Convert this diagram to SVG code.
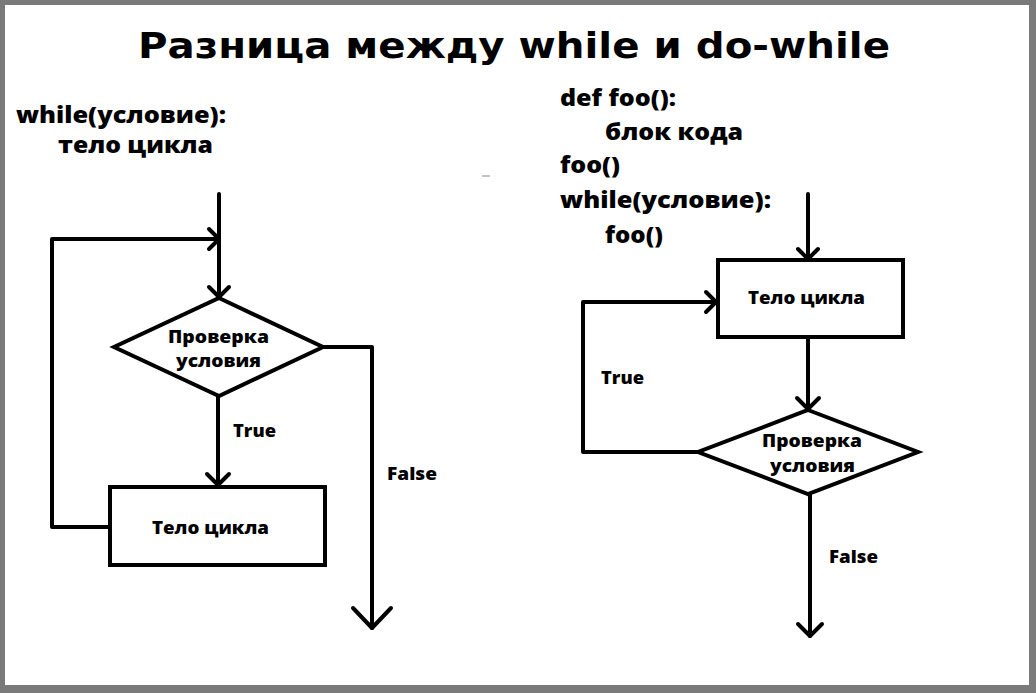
<svg xmlns="http://www.w3.org/2000/svg" width="1036" height="693" viewBox="0 0 1036 693">
<style>
.t{font-family:"Open Sans","Noto Sans","DejaVu Sans",sans-serif;font-weight:800;fill:#000}
.title{font-family:"DejaVu Sans","Verdana",sans-serif;font-weight:bold;font-size:35px;fill:#000}
.code{font-size:23px}
.lbl{font-size:18px}
.shape{fill:#fff;stroke:#000;stroke-width:4}
.ln{fill:none;stroke:#000;stroke-width:4;stroke-linecap:round;stroke-linejoin:round}
</style>
<rect x="0" y="0" width="1036" height="693" fill="#7a7a7a"/>
<rect x="5" y="5" width="1024" height="680" fill="#fff"/>
<rect x="482" y="175" width="8" height="2" fill="#c0c0c0"/>
<text class="title" x="138" y="58" textLength="752" lengthAdjust="spacingAndGlyphs">Разница между while и do-while</text>
<g id="code-while">
<text class="t code" x="16" y="123" textLength="210" lengthAdjust="spacingAndGlyphs">while(условие):</text>
<text class="t code" x="58" y="153" textLength="155" lengthAdjust="spacingAndGlyphs">тело цикла</text>
</g>
<g id="code-dowhile">
<text class="t code" x="560" y="106" textLength="116" lengthAdjust="spacingAndGlyphs">def foo():</text>
<text class="t code" x="605" y="140" textLength="138" lengthAdjust="spacingAndGlyphs">блок кода</text>
<text class="t code" x="560" y="173" textLength="60" lengthAdjust="spacingAndGlyphs">foo()</text>
<text class="t code" x="560" y="208" textLength="211" lengthAdjust="spacingAndGlyphs">while(условие):</text>
<text class="t code" x="605" y="243" textLength="58" lengthAdjust="spacingAndGlyphs">foo()</text>
</g>
<g id="connectors">
<polyline class="ln" points="219,194 219,297"/>
<polyline class="ln" points="209,287 219,297 229,287"/>
<polyline class="ln" points="110,527 52,527 52,239 219,239"/>
<polyline class="ln" points="209,229 219,239 209,249"/>
<polyline class="ln" points="218,396 218,485"/>
<polyline class="ln" points="207,474 218,485 229,474"/>
<polyline class="ln" points="323,347 372,347 372,628"/>
<polyline class="ln" points="353,608 372,628 391,608"/>
<polyline class="ln" points="808,194 808,259"/>
<polyline class="ln" points="798,249 808,259 818,249"/>
<polyline class="ln" points="808,337 808,409"/>
<polyline class="ln" points="797,398 808,409 819,398"/>
<polyline class="ln" points="698,452 583,452 583,302 716,302"/>
<polyline class="ln" points="706,292 716,302 706,312"/>
<polyline class="ln" points="810,494 810,636"/>
<polyline class="ln" points="798,624 810,636 822,624"/>
<text class="t lbl" x="233" y="437" textLength="43" lengthAdjust="spacingAndGlyphs">True</text>
<text class="t lbl" x="387" y="480" textLength="50" lengthAdjust="spacingAndGlyphs">False</text>
<text class="t lbl" x="601" y="384" textLength="43" lengthAdjust="spacingAndGlyphs">True</text>
<text class="t lbl" x="829" y="563" textLength="49" lengthAdjust="spacingAndGlyphs">False</text>
</g>
<g id="cond-while">
<polygon class="shape" points="219,298 323,347 219,396 114,347"/>
<text class="t lbl" x="168" y="343" textLength="101" lengthAdjust="spacingAndGlyphs">Проверка</text>
<text class="t lbl" x="176" y="367" textLength="85" lengthAdjust="spacingAndGlyphs">условия</text>
</g>
<g id="body-while">
<rect class="shape" x="110" y="487" width="215" height="78"/>
<text class="t lbl" x="152" y="534" textLength="117" lengthAdjust="spacingAndGlyphs">Тело цикла</text>
</g>
<g id="body-dowhile">
<rect class="shape" x="718" y="260" width="185" height="77"/>
<text class="t lbl" x="748" y="304" textLength="117" lengthAdjust="spacingAndGlyphs">Тело цикла</text>
</g>
<g id="cond-dowhile">
<polygon class="shape" points="808,410 918,452 808,494 698,452"/>
<text class="t lbl" x="762" y="447" textLength="100" lengthAdjust="spacingAndGlyphs">Проверка</text>
<text class="t lbl" x="770" y="472" textLength="85" lengthAdjust="spacingAndGlyphs">условия</text>
</g>
</svg>
